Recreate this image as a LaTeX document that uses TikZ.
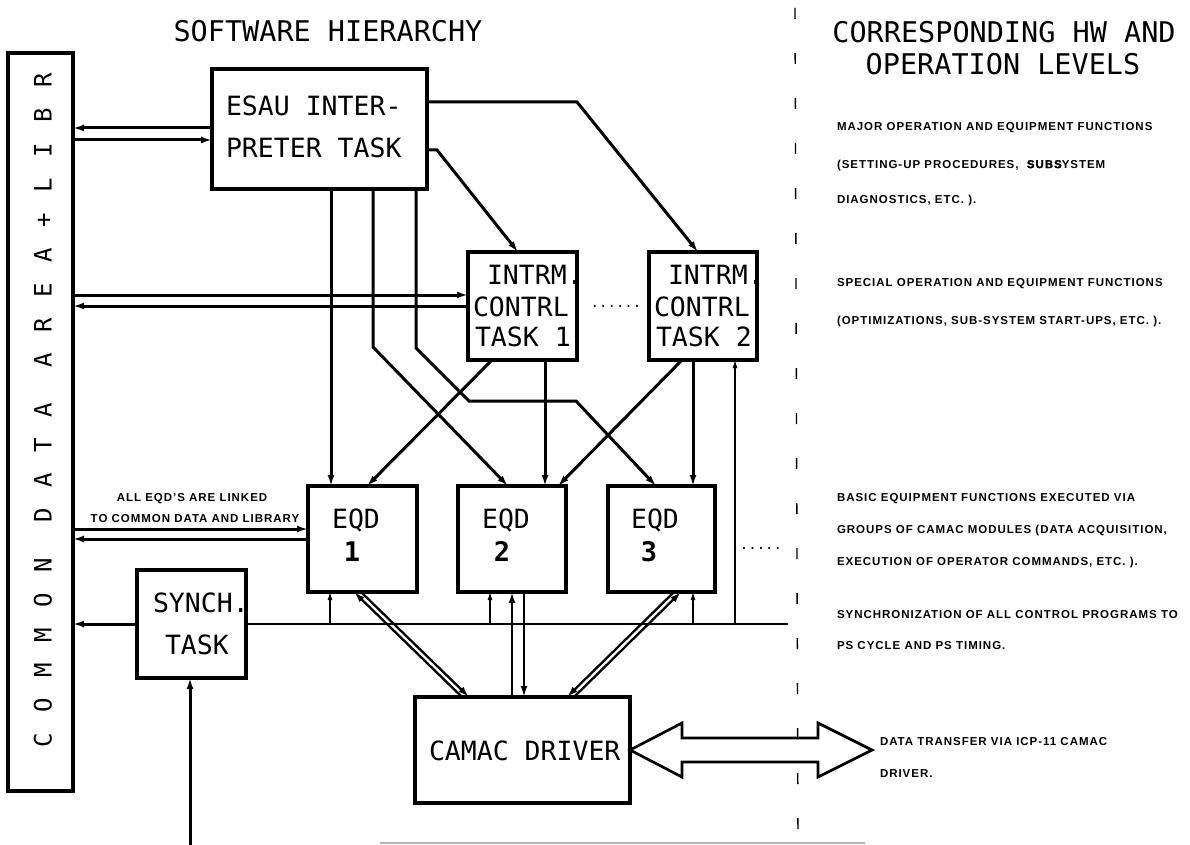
\documentclass[tikz,border=0pt]{standalone}
\usepackage{fontspec}
\setmainfont{Liberation Sans}
\newfontfamily\plotfont{DejaVu Sans Mono}
\newfontfamily\spacedfont[LetterSpace=86]{DejaVu Sans Mono}
\newfontfamily\notefont[LetterSpace=8.5]{Liberation Sans}
\usetikzlibrary{arrows.meta}
\begin{document}
\begin{tikzpicture}[x=1pt,y=-1pt,
  every node/.style={inner sep=0pt, outer sep=0pt},
  blk/.style={draw, line width=3.2pt, anchor=north west},
  conn/.style={line width=3pt},
  dconn/.style={line width=2.3pt},
  fine/.style={line width=1.1pt},
  arr/.style={-{Latex[length=11pt,width=7pt]}},
  sarr/.style={-{Latex[length=8pt,width=5pt]}},
  lab/.style={font=\plotfont\fontsize{26.5}{26.5}\selectfont, text height=19pt, text depth=0pt, anchor=west},
  num/.style={font=\plotfont\bfseries\fontsize{27}{27}\selectfont, text height=19pt, text depth=0pt},
  ttl/.style={font=\plotfont\fontsize{28.5}{28.5}\selectfont, text height=21pt, text depth=0pt},
  notetxt/.style={font=\notefont\bfseries\fontsize{11.5}{11.5}\selectfont, text height=8.3pt, text depth=0pt, anchor=west},
  dots/.style={font=\plotfont\fontsize{14}{14}\selectfont}
]
\useasboundingbox (0,0) rectangle (1190,845);
\fill[white] (0,0) rectangle (1190,845);

% titles
\node[ttl] (title1) at (328,31) {SOFTWARE HIERARCHY};
\node[ttl] (title2) at (1004,32) {CORRESPONDING HW AND};
\node[ttl] (title3) at (1003,64) {OPERATION LEVELS};

% common data area
\node[blk, minimum width=65pt, minimum height=738pt] (common) at (8,53) {};
\node[font=\spacedfont\fontsize{24}{24}\selectfont, rotate=90, text height=17pt, text depth=0pt] (commontxt) at (43,410) {COMMON DATA AREA+LIBR};

% ESAU interpreter
\node[blk, minimum width=215pt, minimum height=120pt] (esau) at (212,69) {};
\node[lab] (esau1) at (226,106) {ESAU INTER-};
\node[lab] (esau2) at (226,148) {PRETER TASK};

% intermediate control tasks
\node[blk, minimum width=109pt, minimum height=108pt] (t1) at (468,252) {};
\node[lab] (t1a) at (487,275) {INTRM.};
\node[lab] (t1b) at (473,307) {CONTRL};
\node[lab] (t1c) at (475,337) {TASK 1};

\node[blk, minimum width=108pt, minimum height=108pt] (t2) at (649,252) {};
\node[lab] (t2a) at (668,275) {INTRM.};
\node[lab] (t2b) at (654,307) {CONTRL};
\node[lab] (t2c) at (656,337) {TASK 2};

\node[dots] (tdots) at (616,306) {......};

% EQDs
\node[blk, minimum width=109pt, minimum height=106pt] (eqd1) at (308,486) {};
\node[blk, minimum width=108pt, minimum height=106pt] (eqd2) at (458,486) {};
\node[blk, minimum width=107pt, minimum height=106pt] (eqd3) at (608,486) {};
\node[lab, anchor=center] (e1a) at (356,519) {EQD};
\node[num] (e1b) at (352,552) {1};
\node[lab, anchor=center] (e2a) at (506,519) {EQD};
\node[num] (e2b) at (502,552) {2};
\node[lab, anchor=center] (e3a) at (655,519) {EQD};
\node[num] (e3b) at (649,552) {3};
\node[dots] (edots) at (761,548) {.....};

% synch task
\node[blk, minimum width=109pt, minimum height=108pt] (synch) at (137,570) {};
\node[lab] (s1) at (153,603) {SYNCH.};
\node[lab] (s2) at (165,645) {TASK};

% camac driver
\node[blk, minimum width=215pt, minimum height=106pt] (camac) at (415,697) {};
\node[lab] (cam) at (429,751) {CAMAC DRIVER};

% links to common data
\draw[conn,arr] (esau.west |- 0,128) -- (common.east |- 0,128);
\draw[conn,arr] (common.east |- 0,140) -- (esau.west |- 0,140);
\draw[conn,arr] (common.east |- 0,295) -- (t1.west |- 0,295);
\draw[conn,arr] (t1.west |- 0,306) -- (common.east |- 0,306);
\draw[conn,arr] (common.east |- 0,529) -- (eqd1.west |- 0,529);
\draw[conn,arr] (eqd1.west |- 0,539) -- (common.east |- 0,539);
\draw[conn,arr] (synch.west |- 0,624) -- (common.east |- 0,624);
\node[notetxt, anchor=center] (lk1) at (192,497) {ALL EQD’S ARE LINKED};
\node[notetxt, anchor=center] (lk2) at (195,518) {TO COMMON DATA AND LIBRARY};

% ESAU to tasks
\draw[conn,arr] (esau.east |- 0,102) -- (577,102) -- (t2.north -| 698,0);
\draw[conn,arr] (esau.east |- 0,150) -- (437,150) -- (t1.north -| 518,0);
\draw[conn,arr] (esau.south -| 331,0) -- (eqd1.north -| 331,0);
\draw[conn,arr] (esau.south -| 373,0) -- (373,347) -- (eqd2.north -| 508,0);
\draw[conn,arr] (esau.south -| 416,0) -- (416,348) -- (469,401) -- (576,401) -- (eqd3.north -| 656,0);

% tasks to EQDs
\draw[conn,arr] (t1.south -| 492,0) -- (eqd1.north -| 367,0);
\draw[conn,arr] (t1.south -| 545,0) -- (eqd2.north -| 545,0);
\draw[conn,arr] (t2.south -| 682,0) -- (eqd2.north -| 558,0);
\draw[conn,arr] (t2.south -| 693,0) -- (eqd3.north -| 693,0);

% synch line
\coordinate (syncend) at (788,624);
\draw[fine] (synch.east |- 0,624) -- (syncend);
\draw[fine,sarr] (330,624) -- (eqd1.south -| 330,0);
\draw[fine,sarr] (490,624) -- (eqd2.south -| 490,0);
\draw[fine,sarr] (693,624) -- (eqd3.south -| 693,0);
\draw[fine,sarr] (735,624) -- (t2.south -| 735,0);
\coordinate (syncin) at (190,845);
\draw[conn,arr] (syncin) -- (synch.south -| 190,0);

% EQD <-> CAMAC
\draw[dconn,arr] (camac.north -| 462,0) -- (eqd1.south -| 354,0);
\draw[dconn,arr] (eqd1.south -| 361,0) -- (camac.north -| 469,0);
\draw[dconn,arr] (camac.north -| 512,0) -- (eqd2.south -| 512,0);
\draw[dconn,arr] (eqd2.south -| 524,0) -- (camac.north -| 524,0);
\draw[dconn,arr] (camac.north -| 574,0) -- (eqd3.south -| 681,0);
\draw[dconn,arr] (eqd3.south -| 674,0) -- (camac.north -| 567,0);

% big data transfer arrow
\draw[line width=2.7pt, line join=miter] (camac.east) -- ++(52,-27) -- ++(0,15) -- ++(136,0) -- ++(0,-15) -- ++(54,27) -- ++(-54,27) -- ++(0,-15) -- ++(-136,0) -- ++(0,15) -- cycle;

% dashed divider
\coordinate (dtop) at (795,8);
\coordinate (dbot) at (798,842);
\draw[line width=1.4pt, dash pattern=on 11pt off 34pt] (dtop) -- (dbot);

% faint scan line at bottom
\draw[gray!60, line width=1.5pt] (380,843) -- (865,843);

% right-hand notes
\node[notetxt] (n1) at (837,126) {MAJOR OPERATION AND EQUIPMENT FUNCTIONS};
\node[notetxt] (n2) at (837,164) {(SETTING-UP PROCEDURES,\ \ {\addfontfeature{FakeBold=1.5}SUBS}YSTEM};
\node[notetxt] (n3) at (837,199) {DIAGNOSTICS, ETC. ).};
\node[notetxt] (n4) at (837,282) {SPECIAL OPERATION AND EQUIPMENT FUNCTIONS};
\node[notetxt] (n5) at (837,320) {(OPTIMIZATIONS, SUB-SYSTEM START-UPS, ETC. ).};
\node[notetxt] (n6) at (837,497) {BASIC EQUIPMENT FUNCTIONS EXECUTED VIA};
\node[notetxt] (n7) at (837,529) {GROUPS OF CAMAC MODULES (DATA ACQUISITION,};
\node[notetxt] (n8) at (837,561) {EXECUTION OF OPERATOR COMMANDS, ETC. ).};
\node[notetxt] (n9) at (837,614) {SYNCHRONIZATION OF ALL CONTROL PROGRAMS TO};
\node[notetxt] (n10) at (837,645) {PS CYCLE AND PS TIMING.};
\node[notetxt] (n11) at (880,741) {DATA TRANSFER VIA ICP-11 CAMAC};
\node[notetxt] (n12) at (880,773) {DRIVER.};
\end{tikzpicture}
\end{document}
